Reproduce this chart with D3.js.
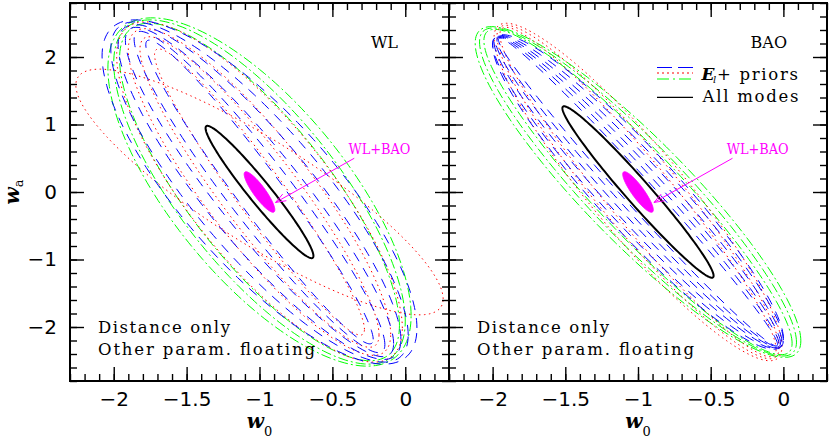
<!DOCTYPE html>
<html>
<head>
<meta charset="utf-8">
<script src="https://cdn.jsdelivr.net/npm/d3@7"></script>
<style>
  body { margin: 0; background: #fff; }
  svg { display: block; }
  .tick line { stroke: #000; stroke-width: 1.4; }
  .tick text { font-family: "DejaVu Sans", sans-serif; font-size: 20px; fill: #000; }
  .serif { font-family: "DejaVu Serif", serif; }
</style>
</head>
<body>
<svg id="chart" width="830" height="441"></svg>
<script>
// tick labels
var xTickLabels = [-2, -1.5, -1, -0.5, 0],
    yTickLabels = [-2, -1, 0, 1, 2];

// fiducial model, every contour is centred on it
var fiducial = [-1, 0];

// contours as [sigma(w0), sigma(wa), correlation]
var wlGreen = [[1.04, 2.58, -0.71], [1.00, 2.55, -0.75], [0.96, 2.50, -0.79]],
    wlRed = [[1.26, 1.82, -0.87], [0.98, 2.52, -0.80], [0.90, 2.42, -0.87], [0.82, 2.30, -0.92], [0.72, 2.12, -0.96]],
    wlBlue = [[1.08, 2.55, -0.79], [1.02, 2.52, -0.84], [0.97, 2.48, -0.88], [0.92, 2.44, -0.92], [0.86, 2.38, -0.95], [0.78, 2.25, -0.97]],
    wlAllModes = [0.37, 0.98, -0.965];

var baoGreen = [[1.12, 2.45, -0.90], [1.09, 2.43, -0.915], [1.06, 2.41, -0.93]],
    baoRed = [[0.99, 2.50, -0.915], [0.97, 2.47, -0.935], [0.95, 2.44, -0.955]],
    baoBlue = [[1.00, 2.33, -0.93], [1.00, 2.32, -0.945], [0.99, 2.31, -0.96], [0.98, 2.30, -0.972], [0.97, 2.29, -0.982], [0.96, 2.28, -0.99]],
    baoAllModes = [0.52, 1.27, -0.977];

var wlPlusBao = [0.105, 0.30, -0.88];

// arrow from the WL+BAO label to the combined contour
var arrowFrom = [-0.35, 0.5],
    arrowTo = [-0.89, -0.155],
    comboLabelAt = [-0.39, 0.563];

var styles = {
    green: { stroke: '#00ff00', dash: '10,3,2,3', key: '12,4,2,4' },
    red: { stroke: '#ff0000', dash: '1.5,3.5', key: '2,3' },
    blue: { stroke: '#0000ff', dash: '10,8', key: '15,6' }
};

var panels = [
    { name: 'WL', left: 70, right: 449, green: wlGreen, red: wlRed, blue: wlBlue, all: wlAllModes },
    { name: 'BAO', left: 449, right: 827, green: baoGreen, red: baoRed, blue: baoBlue, all: baoAllModes }
];

var frameTop = 3, frameBottom = 381;

var svg = d3.select('#chart');

var y = d3.scaleLinear().domain([-2.8, 2.8]).range([frameBottom, frameTop]);

function ellipse(p) {
    var sx = p[0], sy = p[1], r = p[2], q = Math.sqrt(1 - r * r);
    return d3.range(0, 360, 2).map(function(deg) {
        var t = deg * Math.PI / 180;
        return [fiducial[0] + sx * Math.cos(t), fiducial[1] + sy * (r * Math.cos(t) + q * Math.sin(t))];
    });
}

panels.forEach(function(panel, i) {
    var x = d3.scaleLinear().domain([-2.3, 0.3]).range([panel.left, panel.right]);
    var line = d3.line()
        .x(function(d) { return x(d[0]); })
        .y(function(d) { return y(d[1]); })
        .curve(d3.curveLinearClosed);

    var g = svg.append('g');

    svg.append('clipPath').attr('id', 'clip' + i)
        .append('rect')
        .attr('x', panel.left).attr('y', frameTop)
        .attr('width', panel.right - panel.left).attr('height', frameBottom - frameTop);

    var plot = g.append('g').attr('clip-path', 'url(#clip' + i + ')');

    ['green', 'red', 'blue'].forEach(function(col) {
        plot.selectAll('path.' + col)
            .data(panel[col])
            .enter().append('path')
            .attr('class', col)
            .attr('d', function(d) { return line(ellipse(d)); })
            .attr('fill', 'none')
            .attr('stroke', styles[col].stroke)
            .attr('stroke-width', 1)
            .attr('stroke-dasharray', styles[col].dash);
    });

    plot.append('path')
        .attr('d', line(ellipse(panel.all)))
        .attr('fill', 'none')
        .attr('stroke', '#000')
        .attr('stroke-width', 2);

    plot.append('path')
        .attr('d', line(ellipse(wlPlusBao)))
        .attr('fill', '#ff00ff')
        .attr('stroke', '#ff00ff')
        .attr('stroke-width', 1);

    // arrow + label
    var x0 = x(arrowFrom[0]), y0 = y(arrowFrom[1]),
        x1 = x(arrowTo[0]), y1 = y(arrowTo[1]),
        ang = Math.atan2(y1 - y0, x1 - x0), hl = 11;
    plot.append('line')
        .attr('x1', x0).attr('y1', y0).attr('x2', x1).attr('y2', y1)
        .attr('stroke', '#ff00ff').attr('stroke-width', 1);
    plot.append('path')
        .attr('d', 'M' + (x1 - hl * Math.cos(ang - 0.35)) + ',' + (y1 - hl * Math.sin(ang - 0.35)) +
            'L' + x1 + ',' + y1 +
            'L' + (x1 - hl * Math.cos(ang + 0.35)) + ',' + (y1 - hl * Math.sin(ang + 0.35)))
        .attr('fill', 'none').attr('stroke', '#ff00ff').attr('stroke-width', 1);
    g.append('text').attr('class', 'serif')
        .attr('x', x(comboLabelAt[0])).attr('y', y(comboLabelAt[1]))
        .attr('font-size', 14).attr('fill', '#ff00ff')
        .attr('textLength', 62).attr('lengthAdjust', 'spacingAndGlyphs')
        .text('WL+BAO');

    // axes: ticks on all four sides, pointing inward
    function addAxis(axis, tx, ty, labels) {
        var a = g.append('g').attr('transform', 'translate(' + tx + ',' + ty + ')').call(axis);
        a.select('.domain').remove();
        if (!labels) a.selectAll('text').remove();
        return a;
    }
    var fmt = d3.format('');
    addAxis(d3.axisBottom(x).tickValues(xTickLabels).tickSizeInner(-14).tickSizeOuter(0).tickPadding(11).tickFormat(fmt), 0, frameBottom, true);
    addAxis(d3.axisBottom(x).ticks(26).tickSizeInner(-7).tickSizeOuter(0), 0, frameBottom, false);
    addAxis(d3.axisTop(x).tickValues(xTickLabels).tickSizeInner(-14).tickSizeOuter(0), 0, frameTop, false);
    addAxis(d3.axisTop(x).ticks(26).tickSizeInner(-7).tickSizeOuter(0), 0, frameTop, false);
    addAxis(d3.axisLeft(y).tickValues(yTickLabels).tickSizeInner(-14).tickSizeOuter(0).tickPadding(13).tickFormat(fmt), panel.left, 0, i === 0);
    addAxis(d3.axisLeft(y).ticks(28).tickSizeInner(-7).tickSizeOuter(0), panel.left, 0, false);
    addAxis(d3.axisRight(y).tickValues(yTickLabels).tickSizeInner(-14).tickSizeOuter(0), panel.right, 0, false);
    addAxis(d3.axisRight(y).ticks(28).tickSizeInner(-7).tickSizeOuter(0), panel.right, 0, false);

    g.append('rect')
        .attr('x', panel.left).attr('y', frameTop)
        .attr('width', panel.right - panel.left).attr('height', frameBottom - frameTop)
        .attr('fill', 'none').attr('stroke', '#000').attr('stroke-width', 2);

    // panel name
    g.append('text').attr('class', 'serif')
        .attr('x', panel.right - 51 + (i === 0 ? 0 : 11)).attr('y', 48)
        .attr('text-anchor', 'end').attr('font-size', 16)
        .text(panel.name);

    // notes
    g.append('text').attr('class', 'serif')
        .attr('x', panel.left + 28).attr('y', 333)
        .attr('font-size', 16.5).attr('textLength', 132).attr('lengthAdjust', 'spacing')
        .text('Distance only');
    g.append('text').attr('class', 'serif')
        .attr('x', panel.left + 28).attr('y', 355)
        .attr('font-size', 16.5).attr('textLength', 217).attr('lengthAdjust', 'spacing')
        .text('Other param. floating');

    // x axis title
    var xt = g.append('text').attr('class', 'serif')
        .attr('x', (panel.left + panel.right) / 2).attr('y', 428)
        .attr('text-anchor', 'middle');
    xt.append('tspan').attr('font-size', 20).attr('font-style', 'italic').attr('font-weight', 'bold').text('w');
    xt.append('tspan').attr('font-size', 13).attr('dy', 8).text('0');
});

// y axis title
var yt = svg.append('text').attr('class', 'serif')
    .attr('transform', 'translate(19,' + y(0) + ') rotate(-90)')
    .attr('text-anchor', 'middle');
yt.append('tspan').attr('font-size', 20).attr('font-style', 'italic').attr('font-weight', 'bold').text('w');
yt.append('tspan').attr('font-size', 13).attr('dy', 4).text('a');

// legend (right panel)
var legend = svg.append('g');
var lx0 = 657, lx1 = 693;
[['blue', 67.5], ['red', 73], ['green', 79]].forEach(function(d) {
    legend.append('line')
        .attr('x1', lx0).attr('x2', lx1).attr('y1', d[1]).attr('y2', d[1])
        .attr('stroke', styles[d[0]].stroke).attr('stroke-width', 1.2)
        .attr('stroke-dasharray', styles[d[0]].key);
});
legend.append('line')
    .attr('x1', lx0).attr('x2', lx1).attr('y1', 97.3).attr('y2', 97.3)
    .attr('stroke', '#000').attr('stroke-width', 1.2);

legend.append('text').attr('class', 'serif')
    .attr('x', 701.5).attr('y', 79.5)
    .attr('font-size', 17).attr('font-style', 'italic').attr('font-weight', 'bold')
    .text('E');
legend.append('text').attr('class', 'serif')
    .attr('x', 713).attr('y', 83)
    .attr('font-size', 10).attr('font-style', 'italic')
    .text('l');
legend.append('text').attr('class', 'serif')
    .attr('x', 717).attr('y', 79.5)
    .attr('font-size', 16.5).attr('textLength', 81).attr('lengthAdjust', 'spacing')
    .text('+ priors');
legend.append('text').attr('class', 'serif')
    .attr('x', 702.5).attr('y', 101.7)
    .attr('font-size', 16.5).attr('textLength', 96).attr('lengthAdjust', 'spacing')
    .text('All modes');
</script>
</body>
</html>
